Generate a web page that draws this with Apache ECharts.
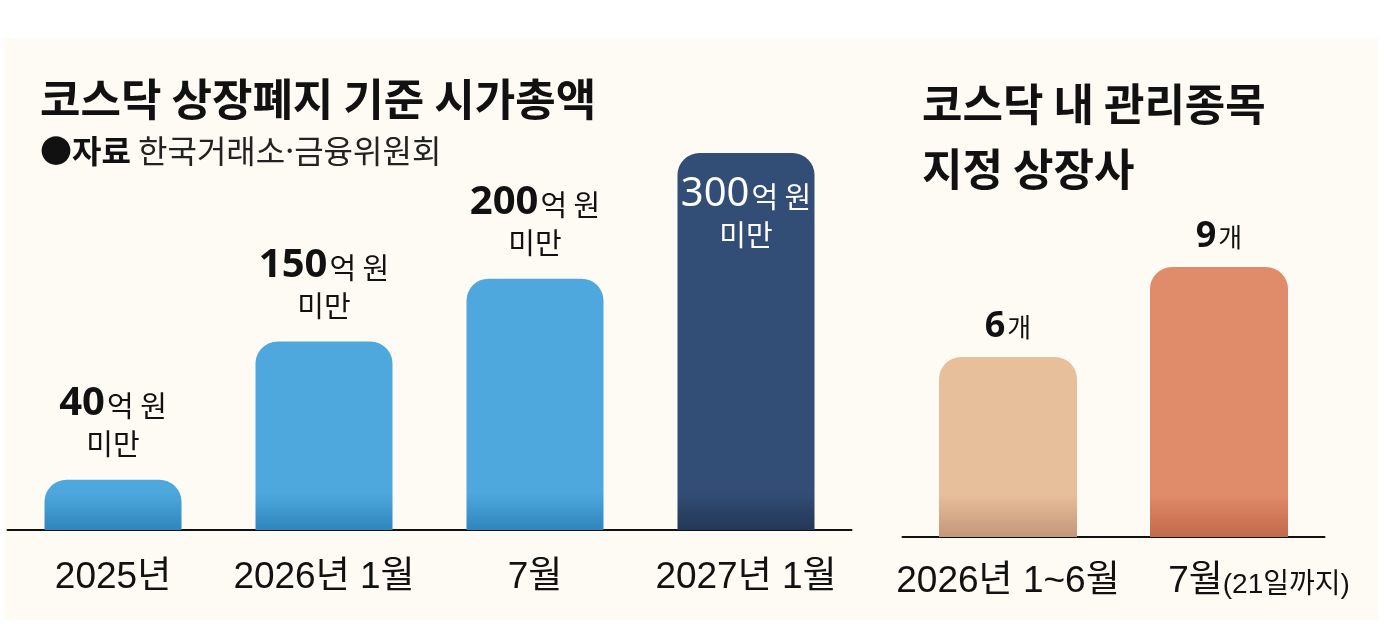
<!doctype html>
<html lang="ko">
<head>
<meta charset="utf-8"/>
<title>코스닥 상장폐지 기준 시가총액</title>
<style>
  html, body { margin: 0; padding: 0; background: #ffffff; }
  #chart { width: 1384px; height: 631px; }
</style>
</head>
<body>
<div id="chart"></div>
<script src="https://cdn.jsdelivr.net/npm/echarts@6/dist/echarts.min.js"></script>
<script>
  // left panel: delisting market-cap threshold (억 원)
  const capCategories = ["2025년", "2026년 1월", "7월", "2027년 1월"];
  const capValues = [40, 150, 200, 300];

  // right panel: KOSDAQ companies designated as administrative issues
  const issueCategories = ["2026년 1~6월", "7월(21일까지)"];
  const issueValues = [6, 9];

  const FONT = '"Liberation Sans", "Noto Sans CJK KR", sans-serif';
  const KR = '"Noto Sans CJK KR", sans-serif';

  // bar colours (top, bottom shade)
  const capColors = [
    ["#4ea8dd", "#2f86be"],
    ["#4ea8dd", "#2f86be"],
    ["#4ea8dd", "#2f86be"],
    ["#334e76", "#243757"],
  ];
  const issueColors = [
    ["#e8bf9b", "#c39779"],
    ["#e08b69", "#c2694b"],
  ];

  const shade = (pair, y0, y1) =>
    new echarts.graphic.LinearGradient(0, y0, 0, y1, [
      { offset: 0, color: pair[0] },
      { offset: 1, color: pair[1] },
    ], true);

  const capData = capValues.map((v, i) => {
    const last = i === capValues.length - 1;
    return {
      value: v,
      itemStyle: { color: shade(capColors[i], 492, 530) },
      label: last
        ? { position: "insideTop", distance: 22, color: "#ffffff",
            rich: { n: { color: "#ffffff", fontWeight: "normal" },
                    u: { color: "#ffffff" }, m: { color: "#ffffff" } } }
        : {},
    };
  });

  const issueData = issueValues.map((v, i) => ({
    value: v,
    itemStyle: { color: shade(issueColors[i], 494, 537) },
  }));

  const chart = echarts.init(document.getElementById("chart"), null, { renderer: "canvas" });

  chart.setOption({
    backgroundColor: "#ffffff",
    animation: false,
    graphic: [{
      type: "rect", z: -10, silent: true,
      shape: { x: 4, y: 38, width: 1374, height: 582 },
      style: { fill: "#fdfbf3" },
    }],
    title: [
      {
        text: "코스닥 상장폐지 기준 시가총액",
        left: 40, top: 77, padding: 0,
        textStyle: { fontFamily: KR, fontSize: 44, fontWeight: "bold", color: "#111111" },
      },
      {
        text: "{b|●자료} 한국거래소·금융위원회",
        left: 40, top: 135, padding: 0,
        textStyle: {
          fontFamily: KR, fontSize: 32, fontWeight: "normal", color: "#222222",
          rich: { b: { fontFamily: KR, fontSize: 32, fontWeight: "bold", color: "#111111" } },
        },
      },
      {
        text: "코스닥 내 관리종목\n지정 상장사",
        left: 922, top: 72, padding: 0,
        textStyle: { fontFamily: KR, fontSize: 44, fontWeight: "bold", color: "#111111", lineHeight: 65 },
      },
    ],
    grid: [
      { left: 7.5, width: 844, top: 153, bottom: 101 },
      { left: 902.5, width: 422, top: 267, bottom: 94 },
    ],
    xAxis: [
      {
        type: "category", gridIndex: 0, data: capCategories,
        axisLine: { lineStyle: { color: "#111111", width: 2 } },
        axisTick: { show: false },
        axisLabel: { fontFamily: FONT, fontSize: 37, color: "#111111", margin: 29,
                     interval: 0, hideOverlap: false },
      },
      {
        type: "category", gridIndex: 1, data: issueCategories,
        axisLine: { lineStyle: { color: "#111111", width: 2 } },
        axisTick: { show: false },
        axisLabel: {
          fontFamily: FONT, fontSize: 37, color: "#111111", margin: 26,
          interval: 0, hideOverlap: false,
          formatter: (v, i) => {
            if (i === 1) {
              const p = v.indexOf("(");
              return "{sp|}{a|" + v.slice(0, p) + "}{s|" + v.slice(p) + "}";
            }
            return "{a|" + v + "}";
          },
          rich: {
            sp: { width: 80 },
            a: { fontFamily: FONT, fontSize: 37, color: "#111111" },
            s: { fontFamily: FONT, fontSize: 28, color: "#111111", padding: [8, 0, 0, 0] },
          },
        },
      },
    ],
    yAxis: [
      { type: "value", gridIndex: 0, min: 0, max: 300, show: false },
      { type: "value", gridIndex: 1, min: 0, max: 9, show: false },
    ],
    series: [
      {
        type: "bar", xAxisIndex: 0, yAxisIndex: 0,
        barWidth: 137,
        data: capData,
        itemStyle: { borderRadius: [22, 22, 0, 0] },
        label: {
          show: true, position: "top", distance: 16,
          align: "center", lineHeight: 40,
          formatter: (p) => "{n|" + p.value + "}{u|억 원}\n{m|미만}",
          rich: {
            n: { fontFamily: '"Noto Sans", sans-serif', fontSize: 40, fontWeight: "bold",
                 color: "#111111", lineHeight: 40 },
            u: { fontFamily: KR, fontSize: 29, color: "#111111", lineHeight: 40,
                 padding: [4, 0, 0, 2] },
            m: { fontFamily: KR, fontSize: 29, color: "#111111", lineHeight: 40 },
          },
        },
      },
      {
        type: "bar", xAxisIndex: 1, yAxisIndex: 1,
        barWidth: 138,
        data: issueData,
        itemStyle: { borderRadius: [22, 22, 0, 0] },
        label: {
          show: true, position: "top", distance: 12,
          formatter: (p) => "{n|" + p.value + "}{u|개}",
          rich: {
            n: { fontFamily: '"Noto Sans", sans-serif', fontSize: 36, fontWeight: "bold", color: "#111111" },
            u: { fontFamily: KR, fontSize: 26, color: "#111111", padding: [0, 0, 0, 2] },
          },
        },
      },
    ],
  });
</script>
</body>
</html>
